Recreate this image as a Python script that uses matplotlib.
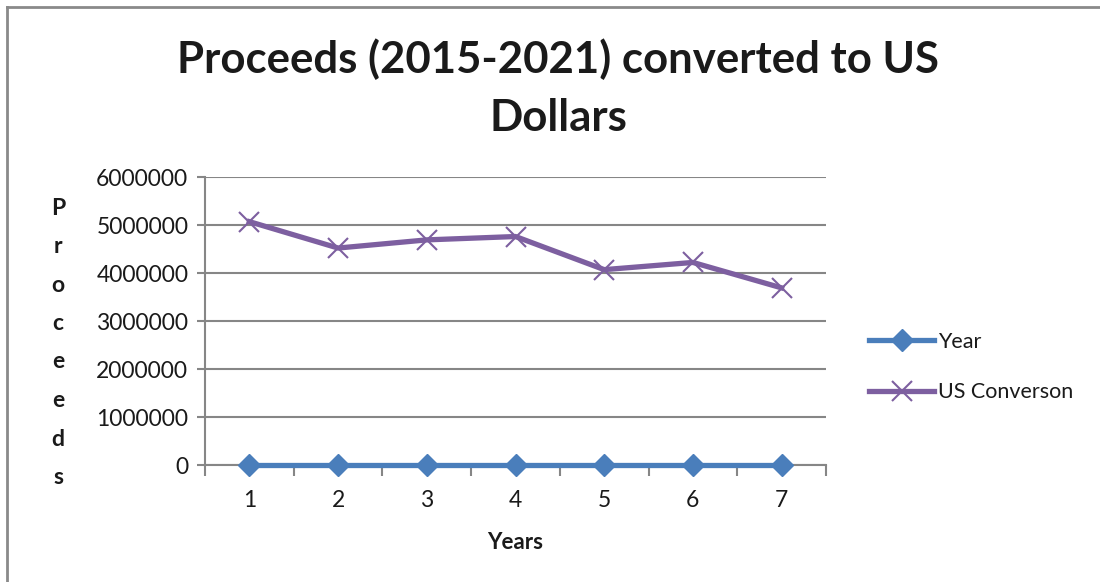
import matplotlib.pyplot as plt
from matplotlib.lines import Line2D

plt.rcParams['font.family'] = ['Lato', 'DejaVu Sans']

# data
categories = [1, 2, 3, 4, 5, 6, 7]
year = [2015, 2016, 2017, 2018, 2019, 2020, 2021]
us_conversion = [5070000, 4520000, 4690000, 4760000, 4070000, 4220000, 3690000]
y_ticks = [0, 1000000, 2000000, 3000000, 4000000, 5000000, 6000000]

blue = '#4A7EBB'
purple = '#7D5FA0'
grid_gray = '#868686'
text_col = '#1a1a1a'

fig = plt.figure(figsize=(11, 5.82), dpi=100)
ax = fig.add_axes([205/1100, 1-465/582, (826-205)/1100, (465-177)/582])

ax.plot(categories, year, color=blue, lw=3.8, marker='D', ms=11,
        mec=blue, mfc=blue, label='Year', zorder=3, clip_on=False)
ax.plot(categories, us_conversion, color=purple, lw=3.8, marker='x', ms=15,
        mew=1.5, mec=purple, label='US Converson', zorder=3, clip_on=False)

ax.set_xlim(0.5, 7.5)
ax.set_ylim(0, 6000000)
ax.set_yticks(y_ticks)
ax.set_yticklabels([str(v) for v in y_ticks])
ax.set_xticks(categories)
ax.set_xticks([c + 0.5 for c in [0] + categories], minor=True)
ax.tick_params(axis='x', which='major', length=0, pad=18, labelsize=16.5, labelcolor=text_col)
ax.tick_params(axis='x', which='minor', length=8, width=1.5, color=grid_gray, direction='out')
ax.tick_params(axis='y', length=6, width=1.5, color=grid_gray, pad=6, labelsize=16.5, labelcolor=text_col)

ax.yaxis.grid(True, color=grid_gray, lw=1.5)
ax.set_axisbelow(True)
for s in ['top', 'right']:
    ax.spines[s].set_visible(False)
for s in ['left', 'bottom']:
    ax.spines[s].set_color(grid_gray)
    ax.spines[s].set_linewidth(1.5)

ax.set_xlabel('Years', fontsize=16, fontweight='bold', color=text_col, labelpad=15)

# vertical stacked y label
for i, ch in enumerate('Proceeds'):
    fig.text(58/1100, 1-(208 + i*38.5)/582, ch, fontsize=16.5, fontweight='bold',
             color=text_col, ha='center', va='center')

fig.text(558/1100, 1-88/582, 'Proceeds (2015-2021) converted to US\nDollars',
         fontsize=31.5, fontweight='bold', color=text_col, ha='center', va='center',
         linespacing=1.55)

handles = [Line2D([], [], color=blue, lw=3.8, marker='D', ms=11),
           Line2D([], [], color=purple, lw=3.8, marker='x', ms=15, mew=1.5)]
fig.legend(handles, ['Year', 'US Converson'], loc='center left',
           bbox_to_anchor=(850/1100, 1-367/582), frameon=False, fontsize=15.5,
           handlelength=3.0, handletextpad=0.2, labelspacing=1.4,
           labelcolor=text_col)

# outer frame (left and top edges visible)
fig.add_artist(Line2D([7/1100, 7/1100], [0, 1-7/582], color='#8a8a8a', lw=2,
                      transform=fig.transFigure))
fig.add_artist(Line2D([7/1100, 1], [1-7/582, 1-7/582], color='#8a8a8a', lw=2,
                      transform=fig.transFigure))

fig.savefig('out.png', dpi=100)
